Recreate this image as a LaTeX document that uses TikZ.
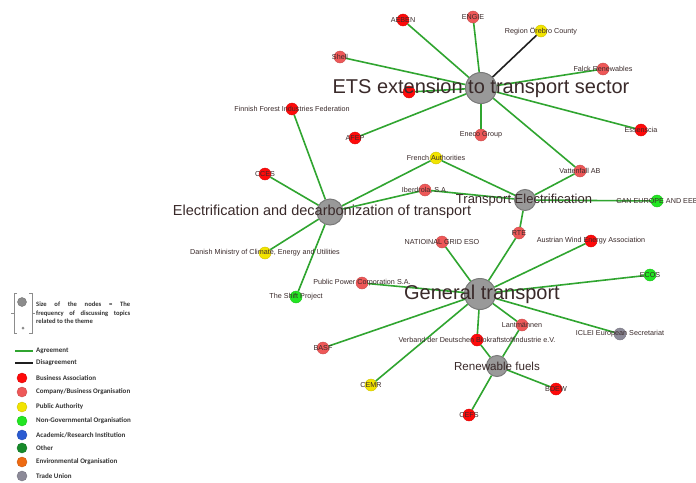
\documentclass[tikz,border=0pt]{standalone}
\usepackage{fontspec}
\setmainfont{Liberation Sans}
\newfontfamily\keyfont{Carlito}
\usepackage{tikz}

\definecolor{colba}{HTML}{FF0A0A}
\definecolor{colco}{HTML}{EE5858}
\definecolor{colpa}{HTML}{F2E400}
\definecolor{colngo}{HTML}{22E622}
\definecolor{colacad}{HTML}{2A5BD2}
\definecolor{coloth}{HTML}{168A2A}
\definecolor{colenv}{HTML}{EE6A12}
\definecolor{coltu}{HTML}{8C8A98}
\definecolor{edgegreen}{HTML}{30A530}
\definecolor{txtcol}{HTML}{3A2A2A}

\begin{document}
\begin{tikzpicture}[x=1pt,y=-1pt]
    \tikzstyle{hub}=[circle,fill=black!40,draw=black!52,line width=1pt,inner sep=0pt]
    \tikzstyle{leaf}=[circle,inner sep=0pt,minimum size=12pt,line width=0.4pt]
    \tikzstyle{ba}=[leaf,fill=colba,draw=colba!85!black]
    \tikzstyle{co}=[leaf,fill=colco,draw=colco!85!black]
    \tikzstyle{pa}=[leaf,fill=colpa,draw=colpa!85!black]
    \tikzstyle{ngo}=[leaf,fill=colngo,draw=colngo!85!black]
    \tikzstyle{acad}=[leaf,fill=colacad,draw=colacad!85!black]
    \tikzstyle{oth}=[leaf,fill=coloth,draw=coloth!85!black]
    \tikzstyle{env}=[leaf,fill=colenv,draw=colenv!85!black]
    \tikzstyle{tu}=[leaf,fill=coltu,draw=coltu!85!black]
    \tikzstyle{agree}=[draw=edgegreen,line width=1.6pt]
    \tikzstyle{disagree}=[draw=black!88,line width=1.6pt]
    \tikzstyle{lbl}=[inner sep=0pt,text=txtcol,font=\fontsize{7.2}{8}\selectfont]
    \tikzstyle{hubtxt}=[inner sep=0pt,text=txtcol]
    \tikzstyle{keytxt}=[inner sep=0pt,anchor=west,text=black!80,font=\keyfont\bfseries\fontsize{7}{8}\selectfont]

    \useasboundingbox[fill=white] (0,0) rectangle (696,482);

    % themes
    \foreach \name/\x/\y/\r in {ets/481/88/31, elec/330/212/26, tel/525/200/21, gen/480/294/31, ren/497/366/21}
        \node[hub,minimum size=\r pt] (\name) at (\x,\y) {};

    % actors
    \foreach \name/\kind/\x/\y in {aeben/ba/403/20, engie/co/473/17, orebro/pa/541/31, shell/co/340/57,
            hidden/ba/409/92, afep/ba/355/138, eneco/co/481/135, falck/co/603/69, essenscia/ba/641/130,
            vattenfall/co/580/171, finnish/ba/292/109, cces/ba/265/174, french/pa/436/158,
            iberdrola/co/425/190, danish/pa/265/253, shift/ngo/296/297, can/ngo/657/201, rte/co/519/233,
            ngrid/co/442/242, awea/ba/591/241, ecos/ngo/650/275, ppc/co/362/283, basf/co/323/348,
            cemr/pa/371/385, vdb/ba/477/340, lant/co/522/325, iclei/tu/620/334, bdew/ba/556/389,
            cefs/ba/469/415}
        \node[\kind] (\name) at (\x,\y) {};

    \foreach \from/\to in {ets/aeben, ets/engie, ets/shell, ets/hidden, ets/afep, ets/eneco, ets/falck,
            ets/essenscia, ets/vattenfall, elec/finnish, elec/cces, elec/french, elec/iberdrola,
            elec/danish, elec/shift, tel/french, tel/iberdrola, tel/vattenfall, tel/can, tel/rte,
            gen/rte, gen/ngrid, gen/awea, gen/ecos, gen/ppc, gen/basf, gen/cemr, gen/vdb, gen/lant,
            gen/iclei, ren/vdb, ren/lant, ren/bdew, ren/cefs}
        \draw[agree] (\from) -- (\to);
    \draw[disagree] (ets) -- (orebro);

    \foreach \name/\txt in {aeben/AEBEN, engie/ENGIE, orebro/Region Örebro County, shell/Shell,
            afep/AFEP, eneco/Eneco Group, falck/Falck Renewables, essenscia/Essenscia,
            vattenfall/Vattenfall AB, finnish/Finnish Forest Industries Federation, cces/CCES,
            french/French Authorities, iberdrola/{Iberdrola, S.A.},
            danish/{Danish Ministry of Climate, Energy and Utilities}, shift/The Shift Project,
            can/CAN EUROPE AND EEB, rte/RTE, ngrid/NATIOINAL GRID ESO,
            awea/Austrian Wind Energy Association, ecos/ECOS, ppc/Public Power Corporation S.A.,
            basf/BASF, cemr/CEMR, vdb/Verband der Deutschen Biokraftstoffindustrie e.V.,
            lant/Lantmännen, iclei/ICLEI European Secretariat, bdew/BDEW, cefs/CEFS}
        \node[lbl] (\name-t) at (\name) {\txt};

    \node[hubtxt,font=\fontsize{20}{20}\selectfont] (ets-t) at (ets) {ETS extension to transport sector};
    \node[hubtxt,font=\fontsize{14.5}{15}\selectfont,xshift=-8pt] (elec-t) at (elec) {Electrification and decarbonization of transport};
    \node[hubtxt,font=\fontsize{13}{13}\selectfont,xshift=-1pt] (tel-t) at (tel) {Transport Electrification};
    \node[hubtxt,font=\fontsize{20}{20}\selectfont,xshift=2pt] (gen-t) at (gen) {General transport};
    \node[hubtxt,font=\fontsize{11.6}{12}\selectfont] (ren-t) at (ren) {Renewable fuels};

    % legend
    \draw[black!45,line width=0.8pt] (17,293) -- (14,293) -- (14,333) -- (17,333)
                                     (29,293) -- (32,293) -- (32,333) -- (29,333)
                                     (11,313) -- (14,313) (32,313) -- (35,313);
    \node[circle,fill=black!45,draw=black!55,minimum size=9pt,inner sep=0pt] (key-big) at (22,302) {};
    \node[circle,fill=black!45,minimum size=3pt,inner sep=0pt] (key-small) at (23,328) {};
    \node[keytxt,anchor=north west,text width=94pt,align=justify,
          font=\keyfont\bfseries\fontsize{6.6}{8.5}\selectfont] (key-size) at (36,302)
          {\hyphenpenalty=10000 Size of the nodes = The\linebreak frequency of discussing topics\linebreak related to the theme};

    \coordinate (agree-a) at (15,351);
    \coordinate (agree-b) at (33,351);
    \coordinate (disagree-a) at (15,363);
    \coordinate (disagree-b) at (33,363);
    \draw[agree] (agree-a) -- (agree-b);
    \draw[disagree] (disagree-a) -- (disagree-b);
    \node[keytxt] (key-agree) at (36,351) {Agreement};
    \node[keytxt] (key-disagree) at (36,363) {Disagreement};

    \foreach \kind/\y/\txt in {ba/378/Business Association, co/392/{Company/Business Organisation},
            pa/407/Public Authority, ngo/421/Non-Governmental Organisation,
            acad/435/{Academic/Research Institution}, oth/448/Other,
            env/462/Environmental Organisation, tu/476/Trade Union}
        {
        \node[\kind,minimum size=10pt] (key-\kind) at (22,\y) {};
        \node[keytxt] (key-\kind-t) at (36,\y) {\txt};
        }
\end{tikzpicture}
\end{document}
